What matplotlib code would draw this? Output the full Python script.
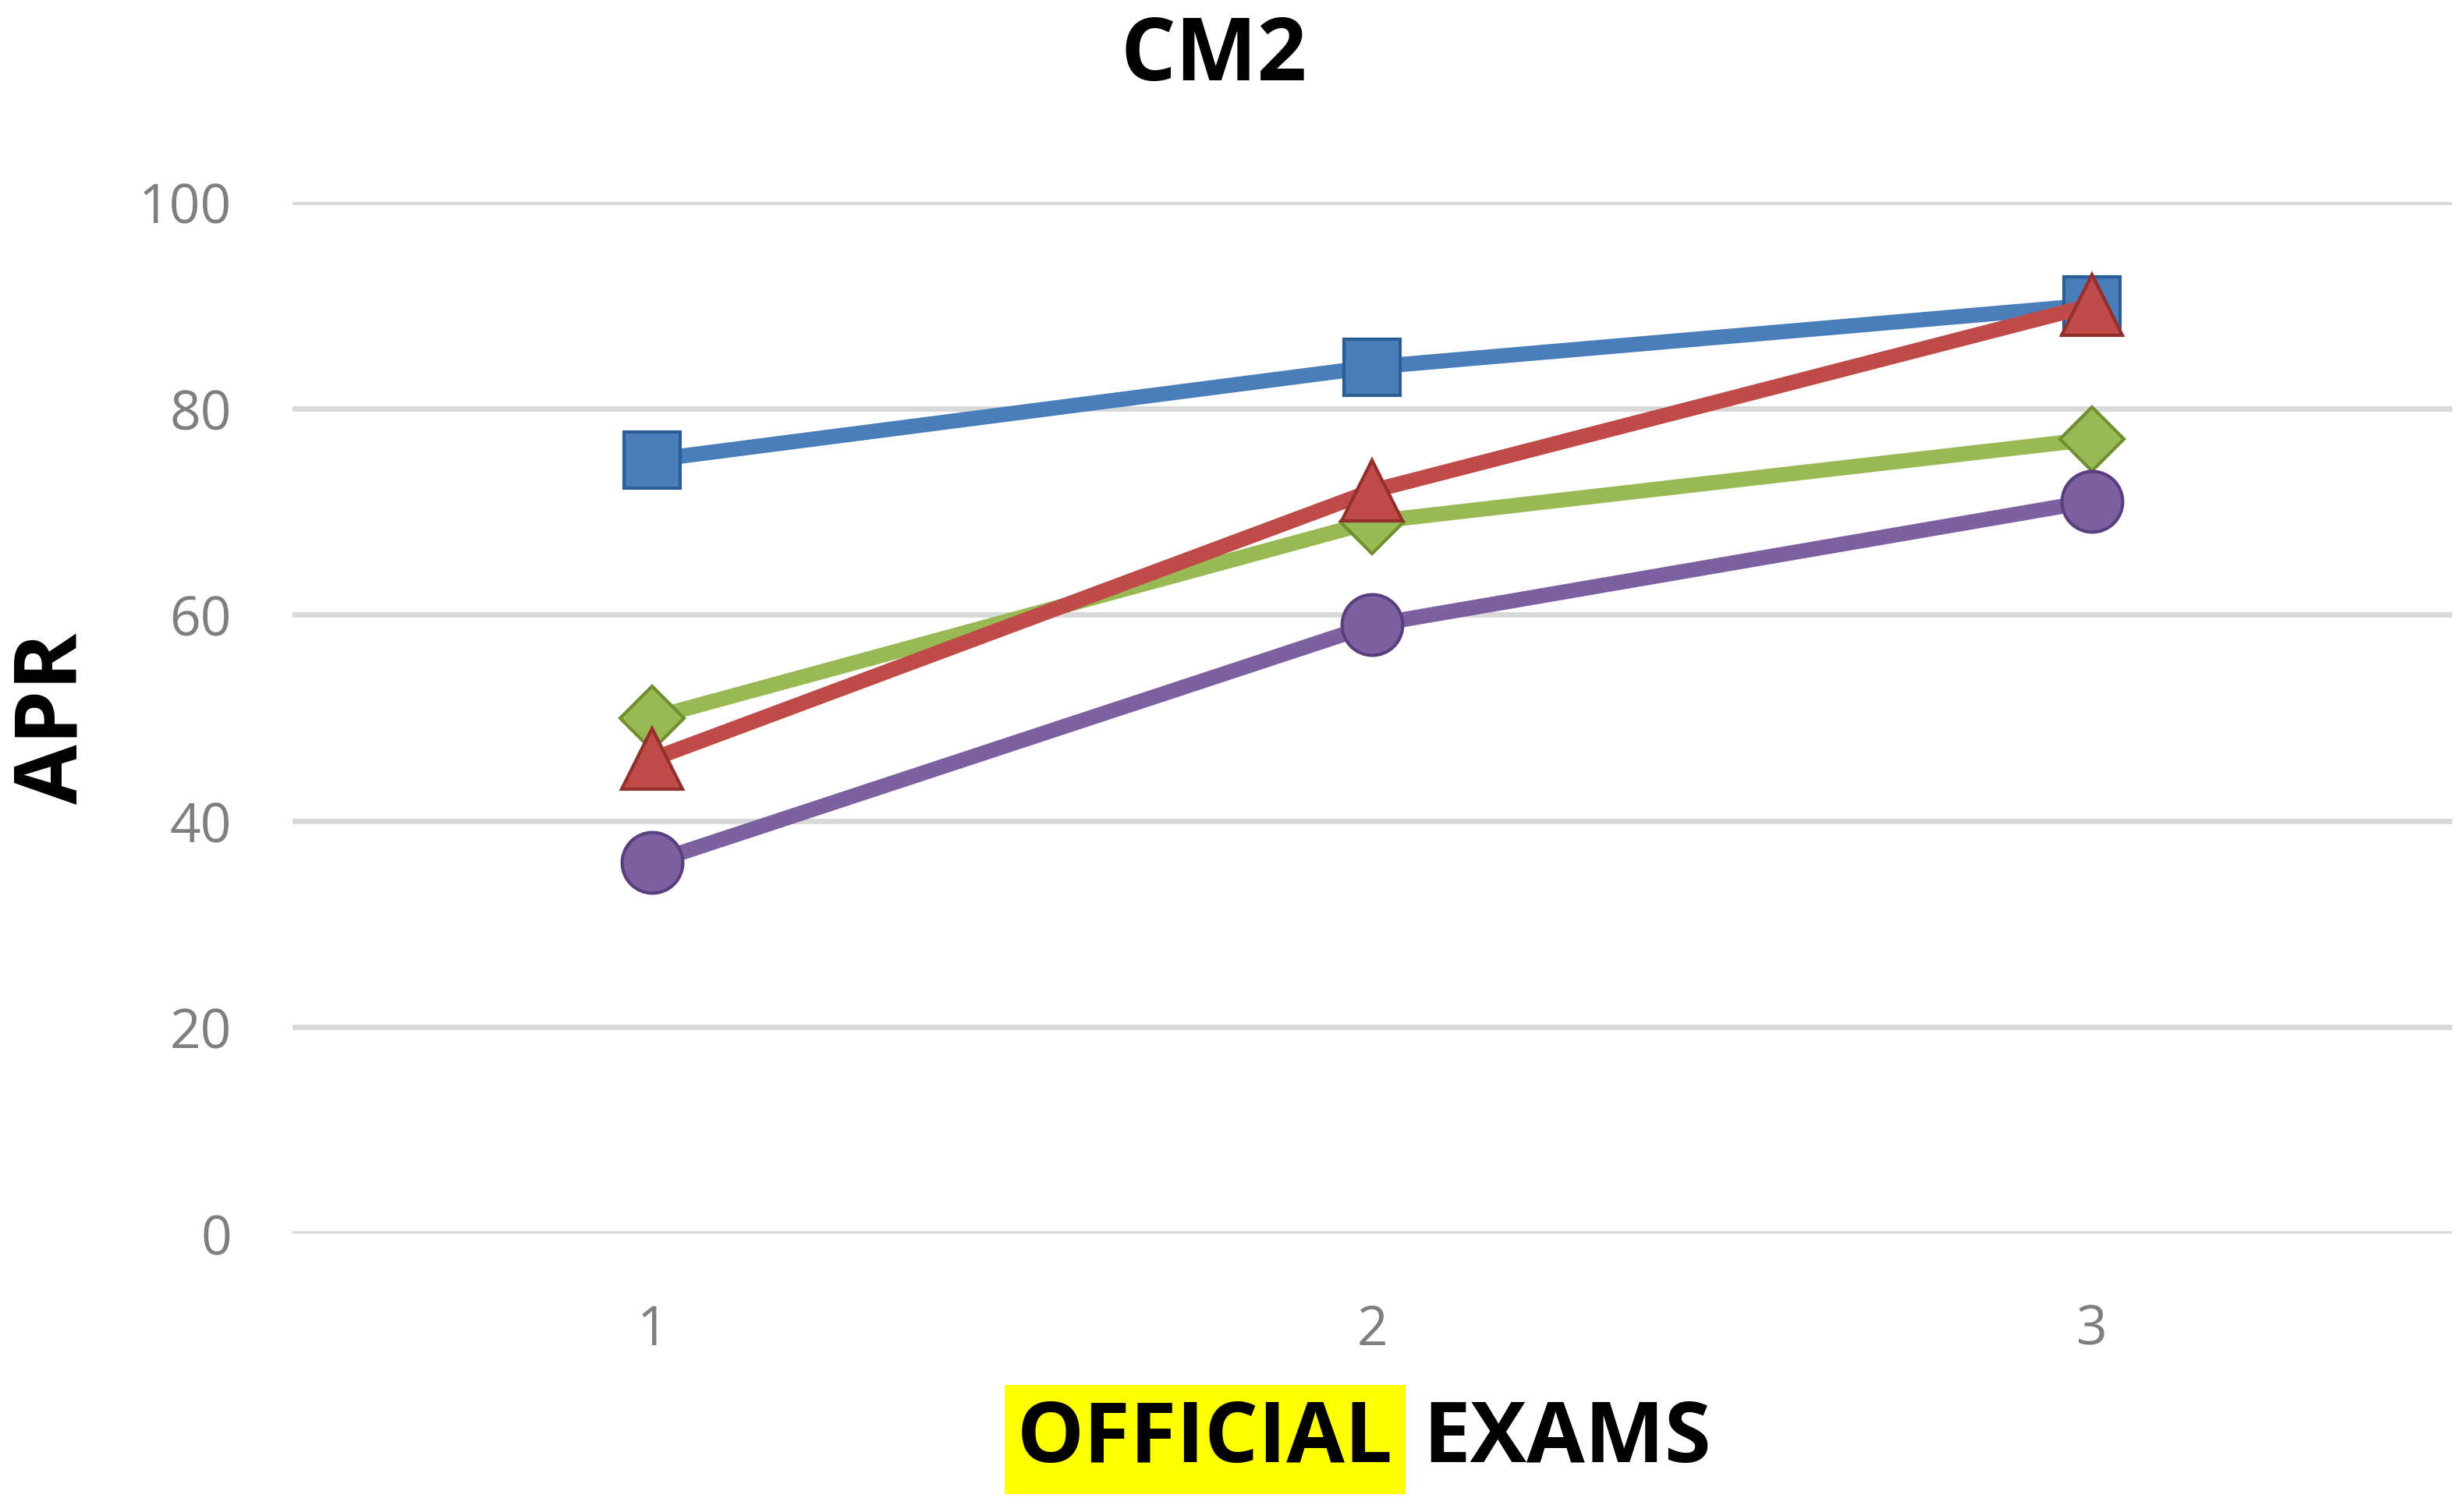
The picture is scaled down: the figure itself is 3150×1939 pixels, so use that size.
import matplotlib.pyplot as plt

exams = [1, 2, 3]
blue_vals = [75, 84, 90]
red_vals = [46, 72, 90]
green_vals = [50, 69, 77]
purple_vals = [36, 59, 71]

series = [
    (blue_vals, "#4a7ebb", "s", 26, "#2c5d95"),
    (green_vals, "#98b954", "D", 21, "#6f8f32"),
    (purple_vals, "#7d60a0", "o", 28, "#5a3f7e"),
    (red_vals, "#be4b48", "^", 28, "#932f2c"),
]

fig = plt.figure(figsize=(15.75, 9.7), dpi=200)
ax = fig.add_axes([0.119, 0.184, 0.879, 0.682])

for vals, col, mk, ms, edge in series:
    ax.plot(exams, vals, color=col, lw=7, marker=mk, ms=ms,
            mfc=col, mec=edge, mew=1.5, solid_capstyle="round")

ax.set_xlim(0.5, 3.5)
ax.set_ylim(0, 100)
ax.set_yticks(range(0, 101, 20))
ax.set_xticks(exams)
ax.grid(axis="y", color="#d9d9d9", lw=2.5)
ax.set_axisbelow(True)
for s in ax.spines.values():
    s.set_visible(False)
ax.tick_params(length=0, labelsize=25, labelcolor="#7f7f7f", pad=28)
ax.tick_params(axis="x", pad=32)
for lab in ax.get_xticklabels() + ax.get_yticklabels():
    lab.set_family("Open Sans")

fig.text(0.494, 0.962, "CM2", ha="center", va="center", fontsize=40,
         fontweight="bold", family="Open Sans")
fig.text(0.022, 0.525, "APR", ha="center", va="center", rotation=90,
         fontsize=40, fontweight="bold", family="Open Sans")
fig.text(0.567, 0.048, "OFFICIAL", ha="right", va="center", fontsize=39,
         fontweight="bold", family="Open Sans",
         bbox=dict(facecolor="#ffff00", edgecolor="none", pad=6))
fig.text(0.579, 0.048, "EXAMS", ha="left", va="center", fontsize=39,
         fontweight="bold", family="Open Sans")

fig.savefig("out.png", dpi=200)
